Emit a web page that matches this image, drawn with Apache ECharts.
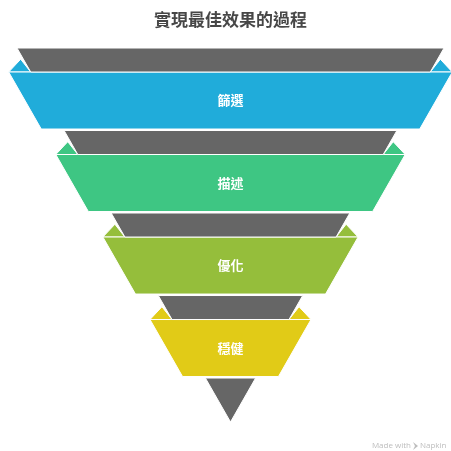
<!DOCTYPE html>
<html>
<head>
<meta charset="utf-8">
<script src="https://cdn.jsdelivr.net/npm/echarts@6/dist/echarts.min.js"></script>
<style>
  html, body { margin: 0; padding: 0; background: #ffffff; }
  #chart { width: 451px; height: 451px; }
</style>
</head>
<body>
<div id="chart"></div>
<script>
// Content
const chartTitle = '實現最佳效果的過程';
const stages = ['篩選', '描述', '優化', '穩健'];

// Styling
const palette = ['#20ACDA', '#3EC683', '#95BE3B', '#E1CB17'];
const greyFill = '#666666';
const FONT = '"Noto Sans CJK TC", "Noto Sans CJK SC", sans-serif';

// Funnel geometry in axis units: x = fraction of the top half-width, y = stage depth
const APEX = 4.533;      // depth where the funnel closes
const GREY_H = 0.291;    // depth of each grey collar
const BAND_END = 0.982;  // where a coloured band ends inside its stage
const FLARE = 0.103;     // how far a band sticks out past the funnel wall
const EAR_X = 0.047;     // folded-back flap of each band
const EAR_Y = 0.155;
const half = t => Math.max(0, 1 - t / APEX);

const bandData = stages.map((name, i) => ({ name, value: [0, i] }));
const greyData = stages.map((_, i) => ({ value: [0, i] })).concat([{ value: [0, stages.length] }]);

function renderBand(params, api) {
  const i = api.value(1);
  const t0 = i + GREY_H, t1 = i + BAND_END;
  const w0 = half(t0), w1 = half(t1);
  const P = (x, y) => api.coord([x, y]);
  const color = palette[i % palette.length];
  const ctr = P(0, (t0 + t1) / 2);
  const st = { fill: color, stroke: '#ffffff', lineWidth: 1 };
  return {
    type: 'group',
    children: [
      { type: 'polygon', shape: { points: [P(-w0 - FLARE, t0), P(-w0 - EAR_X, t0 - EAR_Y), P(-w0, t0)] }, style: st },
      { type: 'polygon', shape: { points: [P(w0 + FLARE, t0), P(w0 + EAR_X, t0 - EAR_Y), P(w0, t0)] }, style: st },
      { type: 'polygon', shape: { points: [P(-w0 - FLARE, t0), P(w0 + FLARE, t0), P(w1 + FLARE, t1), P(-w1 - FLARE, t1)] }, style: st },
      {
        type: 'text', x: ctr[0], y: ctr[1],
        style: {
          text: stages[params.dataIndex], fill: '#ffffff',
          font: 'bold 13px ' + FONT, textAlign: 'center', textVerticalAlign: 'middle'
        }
      }
    ]
  };
}

function renderGrey(params, api) {
  const i = api.value(1);
  const t0 = i;
  const t1 = i < stages.length ? i + GREY_H : APEX;
  const w0 = half(t0), w1 = half(t1);
  const P = (x, y) => api.coord([x, y]);
  return {
    type: 'polygon',
    shape: { points: [P(-w0, t0), P(w0, t0), P(w1, t1), P(-w1, t1)] },
    style: { fill: greyFill, stroke: '#ffffff', lineWidth: 1 }
  };
}

const chart = echarts.init(document.getElementById('chart'), null, { renderer: 'canvas' });
chart.setOption({
  animation: false,
  backgroundColor: '#ffffff',
  grid: { left: 17, right: 7, top: 48, bottom: 29 },
  xAxis: { type: 'value', min: -1, max: 1, show: false },
  yAxis: { type: 'value', min: 0, max: APEX, inverse: true, show: false },
  graphic: [
    {
      type: 'text', x: 230.5, y: 20,
      style: {
        text: chartTitle, fill: '#474747', font: 'bold 17px ' + FONT,
        textAlign: 'center', textVerticalAlign: 'middle'
      }
    },
    {
      type: 'text', x: 411, y: 446,
      style: {
        text: 'Made with', fill: '#bdbdbd', font: '8px "Open Sans", sans-serif',
        textAlign: 'right', textVerticalAlign: 'middle'
      }
    },
    {
      type: 'polygon', shape: { points: [[413, 442], [418, 446], [413, 450], [415, 446]] },
      style: { fill: '#bdbdbd' }
    },
    {
      type: 'text', x: 420, y: 446,
      style: {
        text: 'Napkin', fill: '#bdbdbd', font: '8px "Open Sans", sans-serif',
        textAlign: 'left', textVerticalAlign: 'middle'
      }
    }
  ],
  series: [
    {
      type: 'custom', coordinateSystem: 'cartesian2d', z: 2,
      encode: { x: 0, y: 1 }, data: bandData, renderItem: renderBand
    },
    {
      type: 'custom', coordinateSystem: 'cartesian2d', z: 3,
      encode: { x: 0, y: 1 }, data: greyData, renderItem: renderGrey
    }
  ]
});
</script>
</body>
</html>
